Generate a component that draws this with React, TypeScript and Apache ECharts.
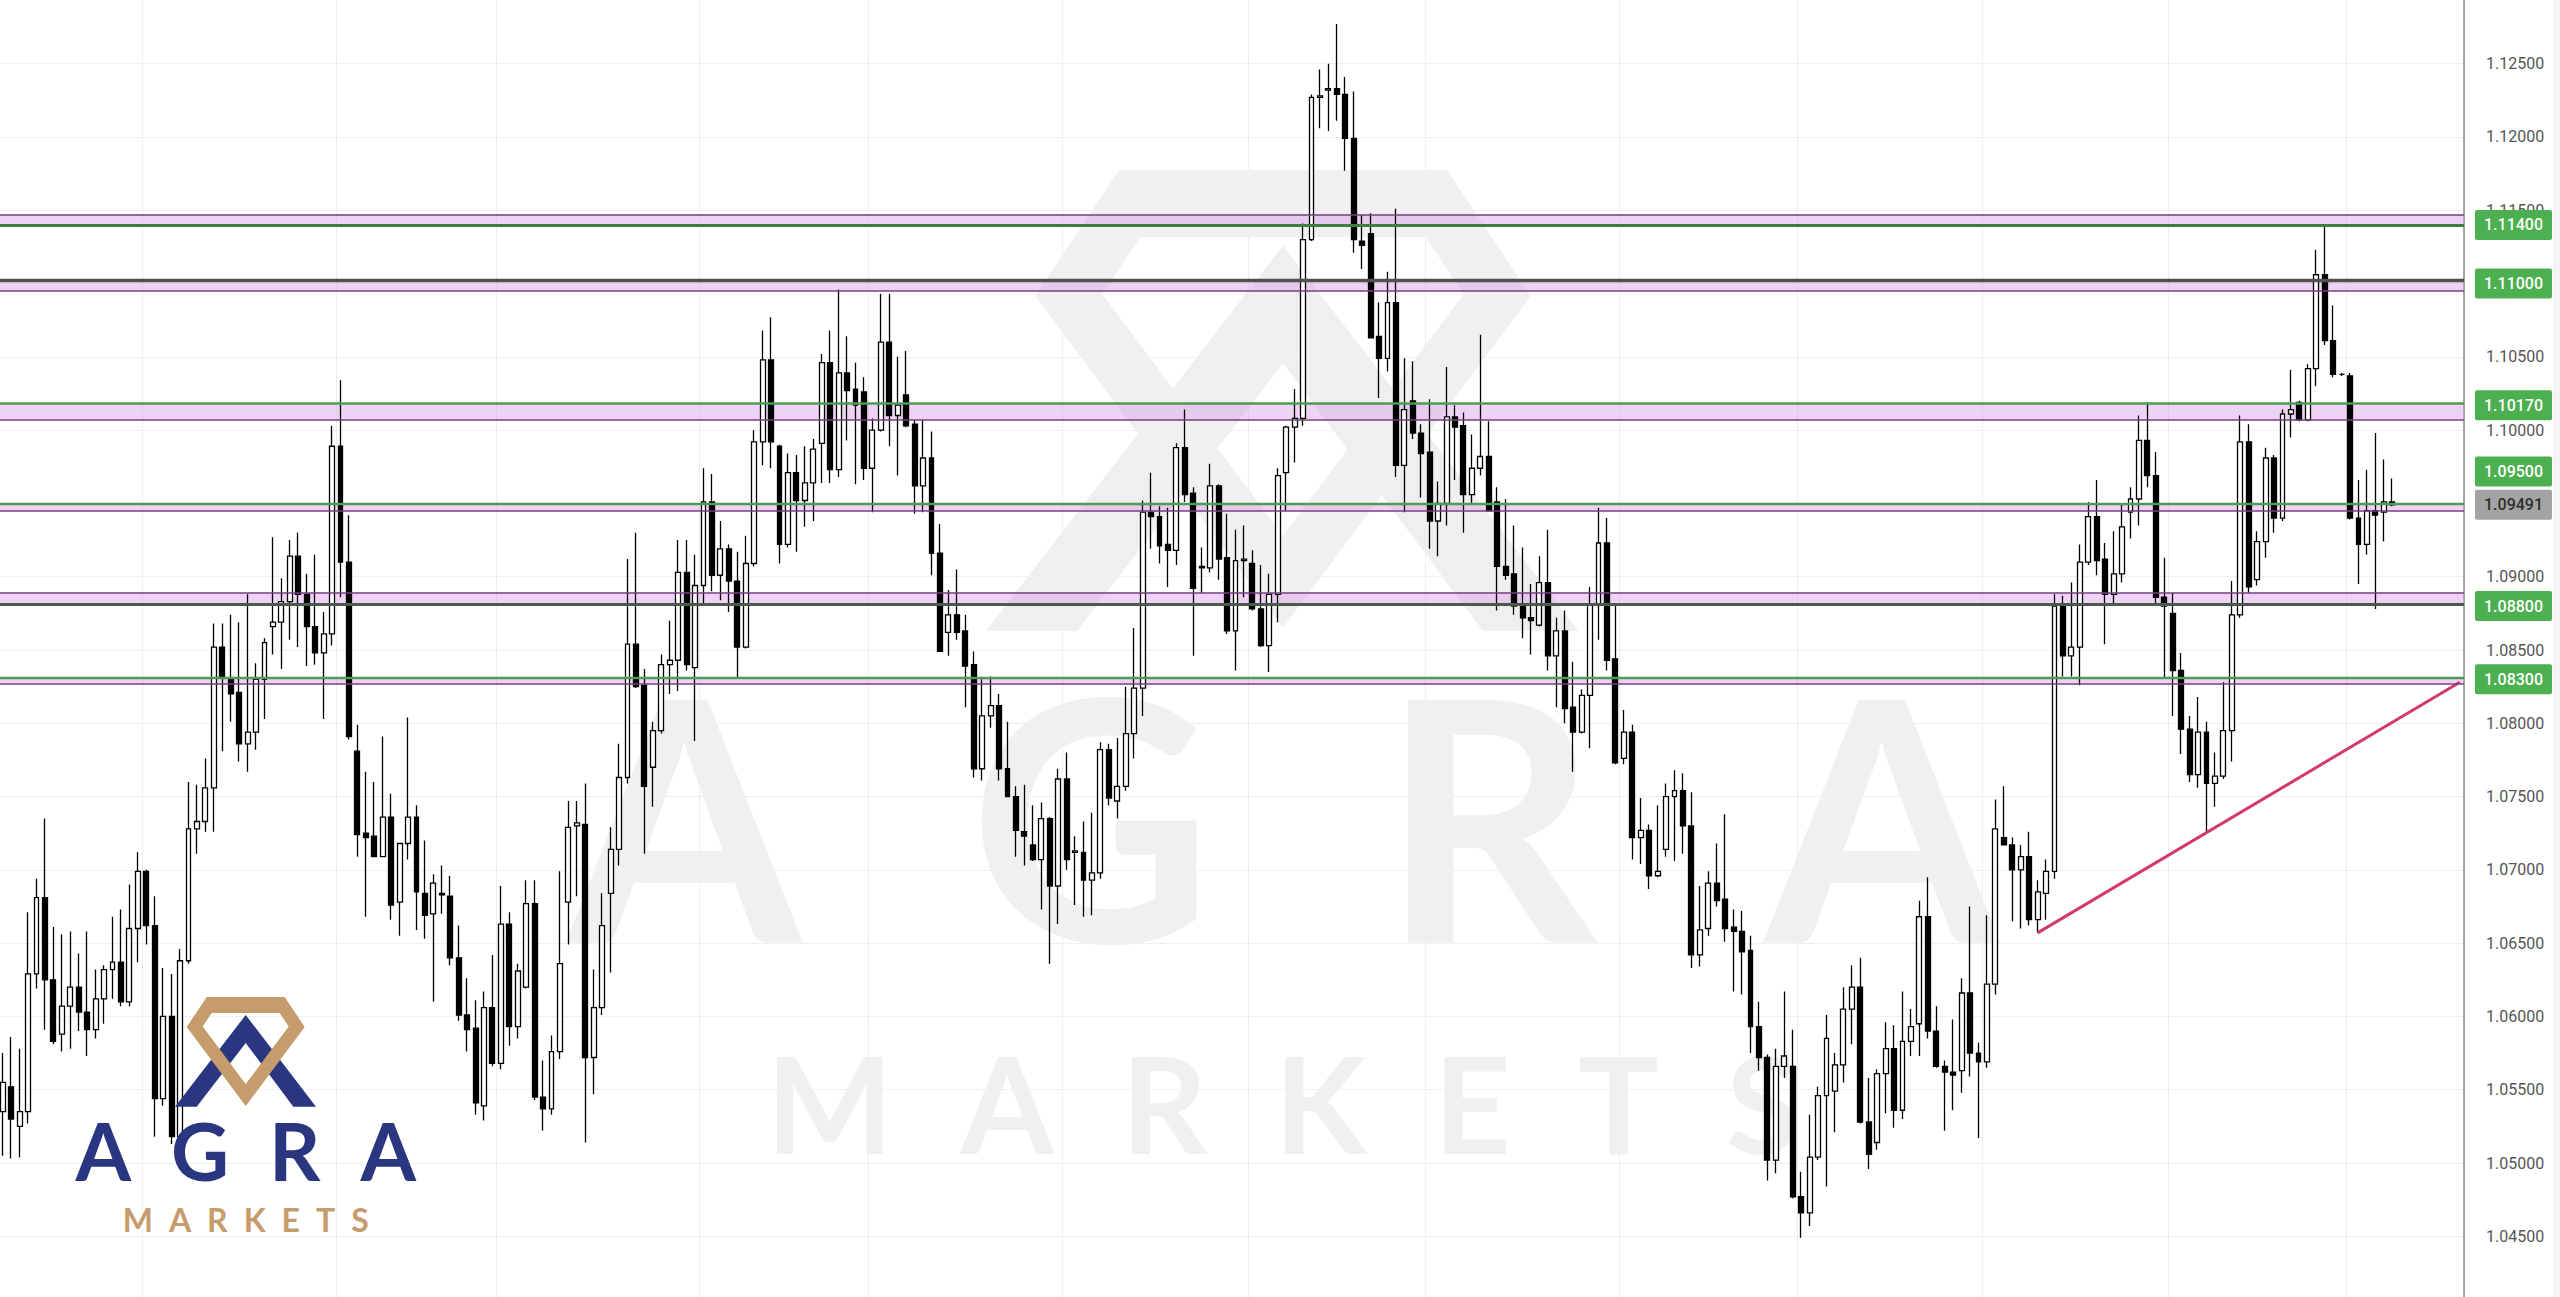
import React, { useEffect, useRef } from "react";
import * as echarts from "echarts";

// ---------- DATA ----------
const OPEN = [
  1.0535,1.0552,1.0525,1.0535,1.0629,1.0681,1.0625,1.0588,1.0607,1.0620,
  1.0603,1.0591,1.0612,1.0632,1.0637,1.0610,1.0660,1.0699,1.0662,1.0544,
  1.0600,1.0518,1.0638,1.0728,1.0733,1.0756,1.0852,1.0831,1.0821,1.0786,
  1.0794,1.0830,1.0866,1.0869,1.0883,1.0914,1.0888,1.0866,1.0848,1.0861,
  1.0989,1.0910,1.0781,1.0725,1.0723,1.0709,1.0736,1.0678,1.0718,1.0736,
  1.0684,1.0670,1.0684,1.0682,1.0640,1.0601,1.0592,1.0539,1.0606,1.0568,
  1.0663,1.0593,1.0620,1.0677,1.0545,1.0537,1.0576,1.0678,1.0730,1.0731,
  1.0572,1.0606,1.0684,1.0714,1.0763,1.0854,1.0826,1.0770,1.0795,1.0840,
  1.0843,1.0903,1.0838,1.0894,1.0951,1.0901,1.0919,1.0897,1.0852,1.0909,
  1.0992,1.1048,1.0989,1.0922,1.0971,1.0952,1.0964,1.0991,1.1046,1.0973,
  1.1039,1.1028,1.1026,1.0974,1.1000,1.1060,1.1010,1.1024,1.1004,1.0962,
  1.0981,1.0916,1.0862,1.0874,1.0863,1.0840,1.0769,1.0805,1.0812,1.0769,
  1.0750,1.0726,1.0717,1.0707,1.0735,1.0689,1.0762,1.0712,1.0712,1.0693,
  1.0698,1.0782,1.0747,1.0757,1.0793,1.0824,1.0944,1.0941,1.0922,1.0918,
  1.0988,1.0957,1.0907,1.0906,1.0962,1.0913,1.0863,1.0911,1.0909,1.0878,
  1.0853,1.0888,1.0971,1.1002,1.1008,1.1130,1.1227,1.1232,1.1233,1.1229,
  1.1199,1.1129,1.1134,1.1064,1.1049,1.1087,1.0976,1.1020,1.0998,1.0985,
  1.0938,1.0950,1.1009,1.1003,1.0956,1.0974,1.0982,1.0951,1.0907,1.0902,
  1.0880,1.0872,1.0867,1.0896,1.0846,1.0863,1.0811,1.0794,1.0819,1.0881,
  1.0923,1.0844,1.0776,1.0794,1.0722,1.0727,1.0696,1.0714,1.0750,1.0754,
  1.0730,1.0642,1.0660,1.0691,1.0680,1.0661,1.0658,1.0645,1.0593,1.0572,
  1.0502,1.0566,1.0566,1.0477,1.0466,1.0504,1.0546,1.0549,1.0567,1.0605,
  1.0620,1.0528,1.0514,1.0561,1.0578,1.0536,1.0583,1.0595,1.0668,1.0590,
  1.0566,1.0562,1.0563,1.0616,1.0575,1.0569,1.0622,1.0722,1.0717,1.0700,
  1.0709,1.0666,1.0684,1.0699,1.0880,1.0846,1.0852,1.0910,1.0941,1.0912,
  1.0888,1.0902,1.0944,1.0953,1.0993,1.0969,1.0886,1.0875,1.0836,1.0796,
  1.0765,1.0794,1.0759,1.0764,1.0795,1.0874,1.0992,1.0898,1.0924,1.0981,
  1.0940,1.1011,1.1019,1.1007,1.1042,1.1106,1.1061,1.1038,1.1037,1.0940,
  1.0922,1.0945,1.0944,1.0951,
];
const HIGH = [
  1.0575,1.0586,1.0578,1.0671,1.0694,1.0735,1.0661,1.0656,1.0658,1.0643,
  1.0658,1.0632,1.0635,1.0668,1.0673,1.0690,1.0712,1.0700,1.0682,1.0633,
  1.0629,1.0646,1.0760,1.0758,1.0776,1.0868,1.0868,1.0874,1.0869,1.0888,
  1.0841,1.0858,1.0927,1.0899,1.0925,1.0930,1.0902,1.0915,1.0876,1.1003,
  1.1034,1.0942,1.0799,1.0767,1.0760,1.0791,1.0752,1.0718,1.0804,1.0744,
  1.0720,1.0697,1.0703,1.0696,1.0662,1.0626,1.0611,1.0617,1.0642,1.0689,
  1.0671,1.0636,1.0693,1.0693,1.0570,1.0587,1.0699,1.0747,1.0747,1.0759,
  1.0632,1.0684,1.0729,1.0786,1.0912,1.0930,1.0837,1.0801,1.0847,1.0870,
  1.0925,1.0925,1.0915,1.0974,1.0970,1.0938,1.0922,1.0917,1.0928,1.1000,
  1.1068,1.1077,1.0990,1.0984,1.0983,1.0989,1.0994,1.1052,1.1068,1.1096,
  1.1064,1.1046,1.1036,1.1008,1.1093,1.1093,1.1050,1.1054,1.1007,1.1007,
  1.0999,1.0936,1.0891,1.0905,1.0874,1.0849,1.0830,1.0832,1.0820,1.0801,
  1.0757,1.0758,1.0744,1.0746,1.0736,1.0769,1.0780,1.0723,1.0733,1.0739,
  1.0787,1.0786,1.0790,1.0825,1.0865,1.0952,1.0971,1.0948,1.0947,1.0991,
  1.1014,1.0961,1.0920,1.0977,1.0963,1.0943,1.0932,1.0935,1.0918,1.0908,
  1.0902,1.0974,1.1003,1.1028,1.1141,1.1229,1.1246,1.1250,1.1277,1.1241,
  1.1231,1.1147,1.1148,1.1087,1.1108,1.1151,1.1049,1.1047,1.1004,1.1021,
  1.0965,1.1043,1.1017,1.1012,1.0997,1.1065,1.1006,1.0961,1.0953,1.0935,
  1.0920,1.0895,1.0914,1.0932,1.0872,1.0877,1.0842,1.0823,1.0893,1.0947,
  1.0940,1.0881,1.0809,1.0799,1.0749,1.0731,1.0744,1.0759,1.0768,1.0766,
  1.0753,1.0689,1.0699,1.0718,1.0738,1.0673,1.0672,1.0655,1.0610,1.0574,
  1.0578,1.0617,1.0591,1.0494,1.0533,1.0552,1.0601,1.0575,1.0620,1.0635,
  1.0640,1.0558,1.0564,1.0596,1.0594,1.0617,1.0605,1.0679,1.0695,1.0607,
  1.0570,1.0598,1.0626,1.0675,1.0582,1.0669,1.0748,1.0757,1.0722,1.0717,
  1.0726,1.0693,1.0707,1.0888,1.0887,1.0896,1.0922,1.0951,1.0966,1.0923,
  1.0931,1.0949,1.0961,1.1010,1.1019,1.0985,1.0913,1.0889,1.0848,1.0805,
  1.0818,1.0801,1.0780,1.0828,1.0897,1.1010,1.1004,1.0931,1.0988,1.0983,
  1.1014,1.1041,1.1020,1.1045,1.1123,1.1140,1.1085,1.1039,1.1039,1.0966,
  1.0973,1.0998,1.0980,1.0967,
];
const LOW = [
  1.0505,1.0503,1.0504,1.0527,1.0619,1.0591,1.0581,1.0576,1.0578,1.0590,
  1.0573,1.0585,1.0595,1.0612,1.0607,1.0607,1.0637,1.0649,1.0518,1.0539,
  1.0513,1.0513,1.0636,1.0711,1.0726,1.0726,1.0781,1.0801,1.0774,1.0767,
  1.0782,1.0803,1.0847,1.0837,1.0857,1.0852,1.0839,1.0840,1.0803,1.0853,
  1.0886,1.0789,1.0709,1.0668,1.0709,1.0709,1.0666,1.0655,1.0707,1.0659,
  1.0653,1.0610,1.0670,1.0635,1.0597,1.0576,1.0533,1.0529,1.0566,1.0564,
  1.0580,1.0585,1.0619,1.0543,1.0522,1.0533,1.0571,1.0649,1.0682,1.0514,
  1.0547,1.0601,1.0630,1.0703,1.0759,1.0824,1.0711,1.0743,1.0793,1.0820,
  1.0822,1.0836,1.0788,1.0882,1.0890,1.0884,1.0876,1.0831,1.0851,1.0907,
  1.0976,1.0974,1.0909,1.0920,1.0917,1.0934,1.0938,1.0964,1.0964,1.0968,
  1.0993,1.0963,1.0966,1.0944,1.0999,1.0989,1.0969,1.1002,1.0943,1.0944,
  1.0901,1.0849,1.0846,1.0857,1.0811,1.0763,1.0761,1.0797,1.0761,1.0750,
  1.0709,1.0703,1.0706,1.0673,1.0636,1.0663,1.0700,1.0676,1.0668,1.0669,
  1.0694,1.0744,1.0735,1.0754,1.0776,1.0805,1.0919,1.0909,1.0893,1.0908,
  1.0951,1.0846,1.0889,1.0903,1.0898,1.0861,1.0836,1.0886,1.0877,1.0852,
  1.0835,1.0869,1.0945,1.0978,1.1003,1.1129,1.1206,1.1204,1.1211,1.1177,
  1.1121,1.1110,1.1063,1.1022,1.1040,1.0968,1.0944,1.0994,1.0954,1.0919,
  1.0914,1.0935,1.0966,1.0930,1.0950,1.0969,1.0945,1.0877,1.0898,1.0874,
  1.0858,1.0847,1.0866,1.0836,1.0811,1.0800,1.0767,1.0793,1.0783,1.0857,
  1.0836,1.0772,1.0772,1.0707,1.0704,1.0687,1.0695,1.0709,1.0706,1.0711,
  1.0633,1.0634,1.0655,1.0675,1.0651,1.0617,1.0615,1.0575,1.0563,1.0488,
  1.0493,1.0558,1.0476,1.0449,1.0457,1.0502,1.0484,1.0521,1.0555,1.0581,
  1.0527,1.0496,1.0509,1.0534,1.0524,1.0530,1.0573,1.0573,1.0585,1.0565,
  1.0522,1.0536,1.0548,1.0559,1.0517,1.0565,1.0615,1.0717,1.0665,1.0660,
  1.0662,1.0657,1.0666,1.0694,1.0832,1.0832,1.0826,1.0908,1.0901,1.0854,
  1.0882,1.0896,1.0926,1.0935,1.0961,1.0880,1.0831,1.0805,1.0779,1.0760,
  1.0756,1.0726,1.0743,1.0762,1.0774,1.0872,1.0889,1.0894,1.0913,1.0930,
  1.0938,1.0995,1.1006,1.1006,1.1030,1.1058,1.1036,1.1037,1.0939,1.0895,
  1.0915,1.0878,1.0924,1.0948,
];
const CLOSE = [
  1.0555,1.0530,1.0535,1.0629,1.0681,1.0625,1.0583,1.0607,1.0620,1.0603,
  1.0591,1.0612,1.0632,1.0637,1.0610,1.0660,1.0699,1.0662,1.0544,1.0600,
  1.0518,1.0638,1.0728,1.0733,1.0756,1.0852,1.0831,1.0820,1.0786,1.0794,
  1.0830,1.0855,1.0869,1.0883,1.0914,1.0888,1.0866,1.0848,1.0861,1.0989,
  1.0910,1.0791,1.0724,1.0722,1.0709,1.0736,1.0676,1.0718,1.0736,1.0685,
  1.0669,1.0691,1.0683,1.0640,1.0601,1.0591,1.0541,1.0606,1.0568,1.0663,
  1.0593,1.0631,1.0677,1.0545,1.0537,1.0576,1.0636,1.0729,1.0732,1.0572,
  1.0606,1.0662,1.0714,1.0763,1.0854,1.0825,1.0757,1.0795,1.0840,1.0843,
  1.0903,1.0840,1.0894,1.0951,1.0901,1.0919,1.0897,1.0852,1.0909,1.0992,
  1.1048,1.0992,1.0922,1.0971,1.0952,1.0964,1.0987,1.1046,1.0973,1.1039,
  1.1027,1.1017,1.0974,1.1000,1.1060,1.1010,1.1017,1.1003,1.0962,1.0981,
  1.0916,1.0849,1.0874,1.0862,1.0839,1.0769,1.0805,1.0812,1.0769,1.0750,
  1.0727,1.0723,1.0707,1.0735,1.0689,1.0762,1.0707,1.0713,1.0693,1.0698,
  1.0782,1.0749,1.0757,1.0793,1.0824,1.0944,1.0941,1.0921,1.0918,1.0988,
  1.0956,1.0892,1.0906,1.0962,1.0912,1.0863,1.0911,1.0912,1.0878,1.0853,
  1.0888,1.0969,1.1002,1.1008,1.1130,1.1227,1.1228,1.1233,1.1229,1.1199,
  1.1130,1.1126,1.1063,1.1049,1.1087,1.0976,1.1014,1.0998,1.0984,1.0938,
  1.0950,1.1009,1.1002,1.0956,1.0974,1.0982,1.0945,1.0907,1.0901,1.0880,
  1.0872,1.0870,1.0896,1.0846,1.0863,1.0810,1.0794,1.0819,1.0881,1.0923,
  1.0843,1.0773,1.0794,1.0722,1.0727,1.0696,1.0699,1.0750,1.0754,1.0730,
  1.0642,1.0659,1.0691,1.0679,1.0660,1.0658,1.0644,1.0593,1.0572,1.0502,
  1.0566,1.0573,1.0477,1.0466,1.0504,1.0546,1.0585,1.0567,1.0605,1.0620,
  1.0528,1.0506,1.0561,1.0578,1.0536,1.0583,1.0593,1.0668,1.0590,1.0566,
  1.0562,1.0560,1.0616,1.0575,1.0569,1.0622,1.0728,1.0717,1.0700,1.0709,
  1.0666,1.0685,1.0699,1.0880,1.0846,1.0852,1.0910,1.0941,1.0911,1.0888,
  1.0902,1.0934,1.0953,1.0993,1.0969,1.0886,1.0880,1.0836,1.0796,1.0765,
  1.0794,1.0759,1.0764,1.0795,1.0874,1.0992,1.0893,1.0924,1.0981,1.0940,
  1.1011,1.1014,1.1007,1.1042,1.1106,1.1061,1.1038,1.1038,1.0940,1.0922,
  1.0945,1.0942,1.0951,1.0949,
];

// 284 daily candles + empty slots to the right edge of the plot
const SLOT_COUNT = 292;
const CATEGORIES = Array.from({ length: SLOT_COUNT }, (_, i) => `D${i + 1}`);
// slots where a new month starts (vertical grid lines)
const MONTH_STARTS = [17, 40, 59, 83, 103, 126, 148, 169, 192, 213, 235, 257, 278];

// price axis
const Y_MIN = 1.04;
const Y_MAX = 1.13;
const Y_STEP = 0.005;

// horizontal support / resistance zones
const LEVEL_TAGS = [1.114, 1.11, 1.1017, 1.095, 1.088, 1.083];
const LEVEL_SOLID = [1.114, 1.1102, 1.1018, 1.095, 1.0881, 1.0831];
const LEVEL_EDGE = [1.1147, 1.1095, 1.1007, 1.0945, 1.0889, 1.0827];
const LAST_PRICE = 1.09491;

// rising trend line: [slot index, price]
const TREND_POINTS = [[241, 1.0657], [291, 1.0828]];

// ---------- LAYOUT / STYLE ----------
const W = 2560;
const H = 1297;
// the chart canvas is a bit larger than the page so that 1.04 / 1.13 fall just outside it
const SHIFT_X = 2;
const SHIFT_Y = 10;
const INNER_W = 2562;
const INNER_H = 1320;
const PX_PER_UNIT = 73.3 / 0.005;
const SOLID_COLORS = ["#3f7d46", "#505050", "#4f9b53", "#4f9b53", "#4a5a4c", "#4f9b53"];
const SOLID_WIDTHS = [2.8, 3.4, 2.6, 2.4, 2.8, 2.4];
const EDGE_COLOR = "#7a3e80";
const ZONE_FILL = "rgba(215,150,230,0.42)";
const TAG_SHIFT_PX = [0, 0, 0, 32, 0, 0];

const GEM_PATH = "M-39 0L39 0L59 30L0 109L-59 30Z M-34 16L-43 29.6L0 87L43 29.6L34 16Z";
const CHEVRON = [[-70.7, 109.7], [0, 18], [70.3, 109.7], [47.6, 109.7], [0, 46], [-49, 109.7]];

let shapesRegistered = false;
function registerShapes() {
  if (shapesRegistered) return;
  echarts.graphic.registerShape("agraGem", echarts.graphic.extendPath(GEM_PATH, {}));
  shapesRegistered = true;
}

function logoChildren(navy: string, gold: string, textNavy: string, textGold: string, z: number) {
  return [
    { type: "polygon", silent: true, z, shape: { points: CHEVRON }, style: { fill: navy } },
    { type: "agraGem", silent: true, z: z + 1, shape: {}, style: { fill: gold } },
    {
      type: "text", silent: true, z, x: 0, y: 153,
      style: {
        text: "A\u2002G\u2002R\u2002A", fill: textNavy, fontSize: 80, fontWeight: "bold", lineHeight: 58,
        fontFamily: "Lato", align: "center", verticalAlign: "middle",
      },
    },
    {
      type: "text", silent: true, z, x: 0, y: 222,
      style: {
        text: "M\u2002A\u2002R\u2002K\u2002E\u2002T\u2002S", fill: textGold, fontSize: 32, fontWeight: "bold",
        lineHeight: 24, fontFamily: "Lato", align: "center", verticalAlign: "middle",
      },
    },
  ];
}

function tagLabel(text: string, bg: string, fg: string) {
  return {
    show: true, position: "end", distance: 11, formatter: text,
    color: fg, backgroundColor: bg, padding: [7, 9, 7, 9], borderRadius: 2,
    fontSize: 16, fontFamily: "Roboto", fontWeight: 500,
  };
}

function buildOption() {
  const candles = OPEN.map((o, i) => [o, CLOSE[i], LOW[i], HIGH[i]]);

  const lineData: any[] = [];
  LEVEL_SOLID.forEach((v, i) => {
    lineData.push({ yAxis: LEVEL_EDGE[i], lineStyle: { color: EDGE_COLOR, width: 1.7, type: "solid" }, label: { show: false } });
    lineData.push({ yAxis: v, lineStyle: { color: SOLID_COLORS[i], width: SOLID_WIDTHS[i], type: "solid" }, label: { show: false } });
  });
  LEVEL_TAGS.forEach((v, i) => {
    lineData.push({
      yAxis: v + TAG_SHIFT_PX[i] / PX_PER_UNIT,
      lineStyle: { color: "rgba(0,0,0,0)", width: 1 },
      label: tagLabel(v.toFixed(5), "#4caf50", "#ffffff"),
    });
  });
  lineData.push({
    yAxis: LAST_PRICE,
    lineStyle: { color: "rgba(0,0,0,0)", width: 1 },
    label: tagLabel(LAST_PRICE.toFixed(5), "#a3a3a3", "#2e2e2e"),
  });

  const areaData = LEVEL_SOLID.map((v, i) => [
    { yAxis: Math.min(v, LEVEL_EDGE[i]) },
    { yAxis: Math.max(v, LEVEL_EDGE[i]) },
  ]);

  // grid: plot area spans page x -1.5 .. 2464, and 1.13 at page y -9.6, 1.04 at page y 1309.6
  const gridLeft = -1.5 + SHIFT_X;
  const gridRight = INNER_W - (2464 + SHIFT_X);
  const gridTop = -9.6 + SHIFT_Y;
  const gridBottom = INNER_H - (1309.6 + SHIFT_Y);

  return {
    animation: false,
    backgroundColor: "#ffffff",
    grid: { left: gridLeft, right: gridRight, top: gridTop, bottom: gridBottom },
    xAxis: {
      type: "category",
      data: CATEGORIES,
      boundaryGap: true,
      axisLine: { show: false },
      axisTick: { show: false },
      axisLabel: { show: false },
      splitLine: {
        show: true,
        interval: (idx: number) => MONTH_STARTS.indexOf(idx) >= 0,
        lineStyle: { color: "#eeeeee", width: 1 },
      },
    },
    yAxis: {
      type: "value",
      position: "right",
      min: Y_MIN,
      max: Y_MAX,
      interval: Y_STEP,
      axisLine: { show: true, lineStyle: { color: "#8c8c8c", width: 1.5 } },
      axisTick: { show: false },
      axisLabel: {
        margin: 22, color: "#555555", fontSize: 16, fontFamily: "Roboto",
        showMinLabel: false, showMaxLabel: false,
        formatter: (v: number) => v.toFixed(5),
      },
      splitLine: { show: true, lineStyle: { color: "#f0f0f0", width: 1 } },
    },
    series: [
      {
        name: "levels",
        type: "line",
        data: [],
        z: 1,
        silent: true,
        clip: false,
        markArea: { silent: true, itemStyle: { color: ZONE_FILL }, data: areaData },
        markLine: { silent: true, precision: 6, symbol: ["none", "none"], animation: false, data: lineData },
      },
      {
        name: "EURUSD",
        type: "candlestick",
        data: candles,
        z: 3,
        barWidth: 5.4,
        silent: true,
        itemStyle: {
          color: "#ffffff",
          color0: "#000000",
          borderColor: "#000000",
          borderColor0: "#000000",
          borderWidth: 1.3,
        },
      },
      {
        name: "trend",
        type: "line",
        data: TREND_POINTS,
        z: 4,
        silent: true,
        symbol: "none",
        lineStyle: { color: "#d23a6e", width: 3 },
      },
    ],
    graphic: {
      elements: [
        {
          type: "group", x: 1283 + SHIFT_X, y: 170 + SHIFT_Y, scaleX: 4.2, scaleY: 4.2, silent: true,
          children: logoChildren("#efefef", "#f0f0f0", "#f0f0f0", "#f0f0f0", 0),
        },
        {
          type: "rect", silent: true, z: 0,
          shape: { x: 2553 + SHIFT_X, y: 0, width: 9, height: INNER_H },
          style: { fill: "#f4f4f4" },
        },
        {
          type: "group", x: 245.7 + SHIFT_X, y: 997 + SHIFT_Y, silent: true,
          children: logoChildren("#2a3680", "#c69c6d", "#2a3680", "#c69c6d", 100),
        },
      ],
    },
  };
}

export default function App() {
  const ref = useRef<HTMLDivElement | null>(null);
  useEffect(() => {
    document.body.style.margin = "0";
    document.body.style.overflow = "hidden";
    registerShapes();
    const chart = echarts.init(ref.current as HTMLDivElement, null, { renderer: "svg" });
    chart.setOption(buildOption() as any);
    return () => chart.dispose();
  }, []);
  return (
    <div style={{ position: "relative", width: W, height: H, overflow: "hidden", background: "#ffffff" }}>
      <div
        ref={ref}
        style={{ position: "absolute", left: -SHIFT_X, top: -SHIFT_Y, width: INNER_W, height: INNER_H }}
      />
    </div>
  );
}
